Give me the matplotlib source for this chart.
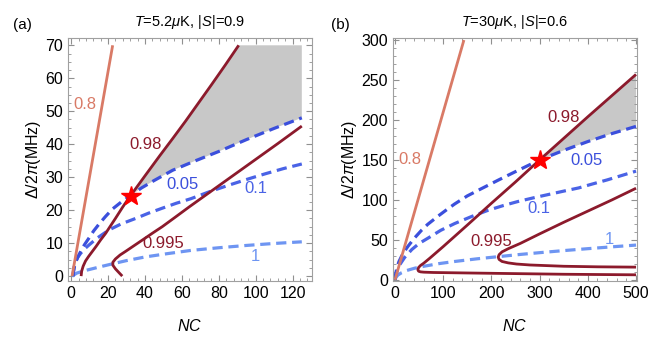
import matplotlib
matplotlib.use("Agg")
import matplotlib.pyplot as plt
from matplotlib.ticker import MultipleLocator

plt.rcParams["font.family"] = ["Liberation Sans", "DejaVu Sans"]
plt.rcParams["mathtext.fontset"] = "custom"
plt.rcParams["mathtext.rm"] = "Liberation Sans"
plt.rcParams["mathtext.it"] = "Liberation Sans:italic"

# panel (a): T=5.2uK, |S|=0.9
a_nc_max, a_d_max = 125, 70
a_f080_x = [0.5, 22.5]
a_f080_y = [0, 70]
a_f098_x = [5.4, 5.7, 6.5, 7.8, 9.5, 11.5, 13.5, 16, 18.6, 21.3, 24, 28, 32.2,
            40, 48, 55, 62, 69, 76, 83.5, 90.8]
a_f098_y = [0, 1.5, 3, 4.6, 6, 7.5, 9, 11, 12.9, 15.2, 17.5, 21, 24.4,
            30.4, 36.5, 41.7, 47, 52.5, 58, 64, 70]
a_f0995_x = [27.7, 26, 24, 22.6, 22.6, 24, 26.5, 29.5, 34, 38.5, 44, 49.4, 56,
             64, 80, 96, 112, 125]
a_f0995_y = [0, 1, 2.2, 3.3, 4.2, 5.2, 6.4, 7.5, 9.2, 10.9, 13, 15, 17.7,
             21, 27.4, 33.8, 40.2, 45.5]
a_e005_x = [1, 1.3, 1.8, 2.6, 3.8, 5.2, 7.2, 9.6, 12.2, 15, 18.5, 22.3, 27, 32.2,
            38, 45, 55, 67, 80, 95, 110, 125]
a_e005_y = [0, 1.5, 3, 4.5, 6, 7.5, 9.5, 11.5, 13.7, 15.7, 18, 20.3, 22.4, 24.4,
            26.7, 29, 32.1, 34.9, 37.8, 41.4, 44.8, 48]
a_e01_x = [1, 1.5, 2.4, 3.6, 5, 7, 9.6, 14, 20.5, 27, 35, 42, 49.4, 57, 65,
           75, 85, 95, 105, 115, 125]
a_e01_y = [0, 2.4, 4.3, 5.7, 6.8, 8.1, 9.4, 11.5, 14, 15.8, 17.5, 19.1, 20.6,
           22.1, 23.5, 25.6, 27.5, 29.3, 31, 32.6, 34]
a_e1_x = [0.5, 3, 7, 12, 17, 23, 30, 40, 52, 65, 80, 95, 110, 125]
a_e1_y = [0, 0.9, 1.6, 2.3, 3.0, 3.8, 4.7, 5.8, 6.8, 7.8, 8.6, 9.3, 9.9, 10.4]
a_star = (32.2, 24.4)

# panel (b): T=30uK, |S|=0.6
b_f080_x = [0, 143]
b_f080_y = [0, 300]
b_f098_x = [500, 350, 250, 150, 80, 60, 53, 49, 47.5, 49, 53, 60, 72, 100,
            150, 200, 250, 300, 400, 500]
b_f098_y = [6.3, 7, 7.8, 8.6, 9.2, 9.6, 10, 10.8, 12.5, 15.5, 18, 21, 27,
            41.6, 68.5, 95.8, 122.5, 150, 204, 257]
b_f0995_x = [500, 420, 350, 280, 252, 235, 222, 216, 214, 216, 222, 235, 260,
             300, 350, 400, 450, 500]
b_f0995_y = [15.9, 16.3, 17, 18.6, 19.8, 21.2, 23, 25.5, 28.4, 31.5, 35, 39,
             45.6, 57.5, 72, 86, 100, 114.6]
b_e005_x = [0, 1.5, 4, 8, 14, 20, 27, 40, 55, 68, 90, 110, 124, 150, 179,
            215, 252, 300, 350, 400, 450, 500]
b_e005_y = [0, 8, 15, 22.5, 30, 36, 42, 52, 62, 69.5, 80, 89, 95, 105, 114,
            125, 136, 150, 162, 173, 183, 192]
b_e01_x = [0, 2, 5, 10, 20, 35, 50, 68, 95, 124, 160, 193, 225, 255, 290,
           320, 350, 381, 410, 440, 470, 500]
b_e01_y = [0, 6, 12, 19, 28, 38, 45.5, 52, 62, 70.5, 79.5, 87, 93, 98,
           103, 107, 111, 115, 120, 125, 130.5, 136]
b_e1_x = [0, 2, 6, 14, 25, 41, 60, 90, 124, 170, 214, 260, 300, 350, 400,
          450, 500]
b_e1_y = [0, 3, 6, 9, 11.8, 14.6, 17, 20.2, 23, 26.3, 29, 31.8, 34, 36.6,
          39, 41.3, 43.5]
b_star = (300, 150)

c_f080 = "#d97a66"
c_f098 = "#8c1a2c"
c_e005 = "#3b4fdc"
c_e01 = "#4a63e6"
c_e1 = "#6e95f2"
c_fill = "#c8c8c8"

fig = plt.figure(figsize=(6.54, 3.44), dpi=100)
ax1 = fig.add_axes([0.104, 0.183, 0.373, 0.7064])
ax2 = fig.add_axes([0.601, 0.183, 0.373, 0.7064])

solid = dict(lw=2.0, solid_capstyle="butt")
dash = dict(lw=2.3, dashes=(3.2, 1.8))
fs = 12

# (a)
fx = [x for x in a_f098_x if x >= a_star[0]] + [a_nc_max]
fy = [y for x, y in zip(a_f098_x, a_f098_y) if x >= a_star[0]] + [a_d_max]
lx = [x for x in a_e005_x if x >= a_star[0]]
ly = [y for x, y in zip(a_e005_x, a_e005_y) if x >= a_star[0]]
ax1.fill(fx + lx[::-1], fy + ly[::-1], color=c_fill, lw=0, zorder=1)
ax1.plot(a_e1_x, a_e1_y, color=c_e1, **dash)
ax1.plot(a_e01_x, a_e01_y, color=c_e01, **dash)
ax1.plot(a_e005_x, a_e005_y, color=c_e005, **dash)
ax1.plot(a_f080_x, a_f080_y, color=c_f080, **solid)
ax1.plot(a_f098_x, a_f098_y, color=c_f098, **solid)
ax1.plot(a_f0995_x, a_f0995_y, color=c_f098, **solid)
ax1.plot(*a_star, marker="*", color="red", ms=15, mec="red", zorder=5)
ax1.set_xlim(-1.7, 130.5)
ax1.set_ylim(-1.5, 72.2)
ax1.xaxis.set_major_locator(MultipleLocator(20))
ax1.xaxis.set_minor_locator(MultipleLocator(4))
ax1.yaxis.set_major_locator(MultipleLocator(10))
ax1.yaxis.set_minor_locator(MultipleLocator(2.5))
ax1.text(7.7, 51.9, "0.8", color=c_f080, fontsize=fs, ha="center", va="center")
ax1.text(40.1, 40, "0.98", color=c_f098, fontsize=fs, ha="center", va="center")
ax1.text(50, 9.9, "0.995", color=c_f098, fontsize=fs, ha="center", va="center")
ax1.text(60.6, 27.7, "0.05", color=c_e005, fontsize=fs, ha="center", va="center")
ax1.text(100.2, 26.7, "0.1", color=c_e01, fontsize=fs, ha="center", va="center")
ax1.text(100, 5.8, "1", color=c_e1, fontsize=fs, ha="center", va="center")
ax1.set_title(r"$T$=5.2$\mu$K, |$S$|=0.9", fontsize=10.5, pad=9)

# (b)
fx = [x for x, y in zip(b_f098_x, b_f098_y) if y >= b_star[1]]
fy = [y for y in b_f098_y if y >= b_star[1]]
lx = [x for x in b_e005_x if x >= b_star[0]]
ly = [y for x, y in zip(b_e005_x, b_e005_y) if x >= b_star[0]]
ax2.fill(fx + lx[::-1], fy + ly[::-1], color=c_fill, lw=0, zorder=1)
ax2.plot(b_e1_x, b_e1_y, color=c_e1, **dash)
ax2.plot(b_e01_x, b_e01_y, color=c_e01, **dash)
ax2.plot(b_e005_x, b_e005_y, color=c_e005, **dash)
ax2.plot(b_f080_x, b_f080_y, color=c_f080, **solid)
ax2.plot(b_f098_x, b_f098_y, color=c_f098, **solid)
ax2.plot(b_f0995_x, b_f0995_y, color=c_f098, **solid)
ax2.plot(*b_star, marker="*", color="red", ms=15, mec="red", zorder=5)
ax2.set_xlim(-4, 502)
ax2.set_ylim(-1.5, 302.5)
ax2.xaxis.set_major_locator(MultipleLocator(100))
ax2.xaxis.set_minor_locator(MultipleLocator(20))
ax2.yaxis.set_major_locator(MultipleLocator(50))
ax2.yaxis.set_minor_locator(MultipleLocator(10))
ax2.text(31, 150, "0.8", color=c_f080, fontsize=fs, ha="center", va="center")
ax2.text(350, 203, "0.98", color=c_f098, fontsize=fs, ha="center", va="center")
ax2.text(199, 48, "0.995", color=c_f098, fontsize=fs, ha="center", va="center")
ax2.text(398, 149, "0.05", color=c_e005, fontsize=fs, ha="center", va="center")
ax2.text(298, 89.6, "0.1", color=c_e01, fontsize=fs, ha="center", va="center")
ax2.text(445, 50, "1", color=c_e1, fontsize=fs, ha="center", va="center")
ax2.set_title(r"$T$=30$\mu$K, |$S$|=0.6", fontsize=10.5, pad=9)

for ax in (ax1, ax2):
    for s in ax.spines.values():
        s.set_color("#a0a0a0")
        s.set_linewidth(0.8)
    ax.tick_params(which="both", direction="in", top=True, right=True,
                   color="#909090", labelsize=11.5)
    ax.tick_params(which="major", length=4)
    ax.tick_params(which="minor", length=2)
    ax.set_xlabel(r"$NC$", fontsize=11.5, labelpad=12)
    ax.set_ylabel(r"$\mathit{\Delta}/2\mathit{\pi}$(MHz)", fontsize=11.5, labelpad=2)

fig.text(0.035, 0.927, "(a)", fontsize=11, ha="center", va="center")
fig.text(0.52, 0.927, "(b)", fontsize=11, ha="center", va="center")

plt.savefig("out.png", dpi=100)
